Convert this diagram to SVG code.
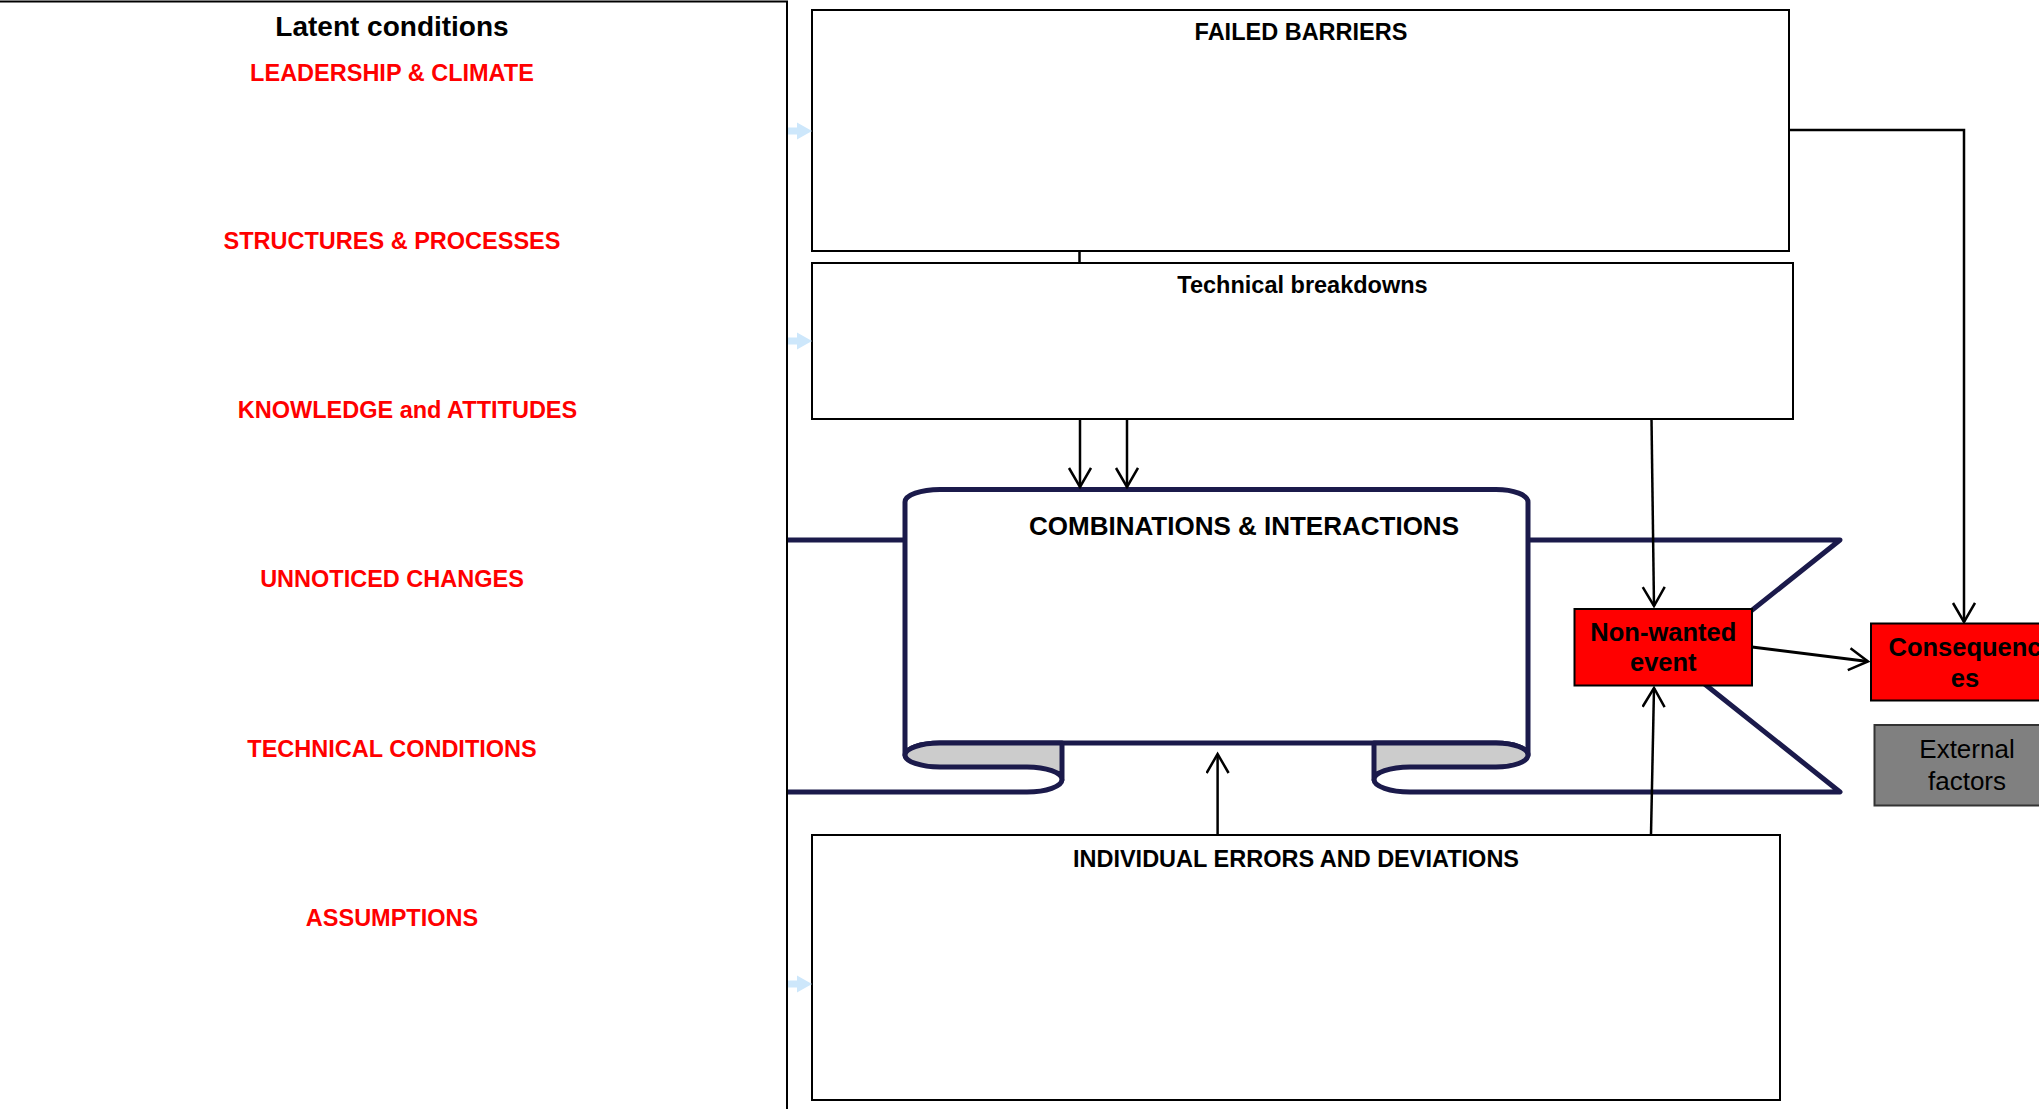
<svg xmlns="http://www.w3.org/2000/svg" width="2039" height="1109" viewBox="0 0 2039 1109">
<style>
.lbl{font-family:"Liberation Sans",Arial,sans-serif;font-weight:bold;font-size:23.5px;fill:#000;text-anchor:middle}
.red{fill:#ff0000}
.box{fill:#fff;stroke:#000;stroke-width:2}
.rib{stroke:#1b1a4b;stroke-width:5;stroke-linejoin:round}
.con{fill:none;stroke:#000;stroke-width:2.5}
.ev{font-family:"Liberation Sans",Arial,sans-serif;font-weight:bold;font-size:25.5px;fill:#000;text-anchor:middle}
.ext{font-family:"Liberation Sans",Arial,sans-serif;font-size:26px;fill:#000;text-anchor:middle}
.blue{fill:#cde7fb}
</style>
<defs>
<marker id="ah" markerUnits="userSpaceOnUse" markerWidth="26" markerHeight="26" refX="20" refY="12" orient="auto">
<path d="M1,1 L20,12 L1,23" fill="none" stroke="#000" stroke-width="2.5"/>
</marker>
</defs>
<rect width="2039" height="1109" fill="#fff"/>

<!-- Ribbon: combinations & interactions -->
<g id="combinations">
<path class="rib" fill="none" d="M787,540 H906"/>
<path class="rib" fill="#fff" d="M1527,540 H1840 L1682,666 L1840,792 H1410 A36,12.5 0 0 1 1374,779.5"/>
<path class="rib" fill="none" d="M787,792 H1027 A35,12.5 0 0 0 1062,779.5"/>
<path class="rib" fill="#fff" d="M905,755 V502 A35,12.5 0 0 1 940,489.5 H1496 A32,12.5 0 0 1 1528,502 V755 A32,12 0 0 0 1496,743 H940 A35,12 0 0 0 905,755 Z"/>
<path class="rib" fill="#cccccc" d="M940,743 A35,12 0 0 0 940,767 H1027 A35,12.5 0 0 1 1062,779.5 V743 Z"/>
<path class="rib" fill="#cccccc" d="M1496,743 A32,12 0 0 1 1496,767 H1410 A36,12.5 0 0 0 1374,779.5 V743 Z"/>
<text class="lbl" x="1244" y="535" style="font-size:26px">COMBINATIONS &amp; INTERACTIONS</text>
</g>

<!-- Left panel: latent conditions -->
<g id="latent">
<rect x="-3" y="1.5" width="790" height="1200" fill="#fff" stroke="#000" stroke-width="2"/>
<text class="lbl" x="392" y="36" style="font-size:28px">Latent conditions</text>
<text class="lbl red" x="392" y="80.7">LEADERSHIP &amp; CLIMATE</text>
<text class="lbl red" x="392" y="249.3">STRUCTURES &amp; PROCESSES</text>
<text class="lbl red" x="407.5" y="418.3">KNOWLEDGE and ATTITUDES</text>
<text class="lbl red" x="392" y="587.3">UNNOTICED CHANGES</text>
<text class="lbl red" x="392" y="756.7">TECHNICAL CONDITIONS</text>
<text class="lbl red" x="392" y="925.7">ASSUMPTIONS</text>
</g>

<g id="failed-barriers">
<rect class="box" x="812" y="10" width="977" height="241"/>
<text class="lbl" x="1301" y="40">FAILED BARRIERS</text>
</g>

<g id="technical-breakdowns">
<rect class="box" x="812" y="263" width="981" height="156"/>
<text class="lbl" x="1302.5" y="293.3">Technical breakdowns</text>
</g>

<g id="individual-errors">
<rect class="box" x="812" y="835" width="968" height="265"/>
<text class="lbl" x="1296" y="866.7">INDIVIDUAL ERRORS AND DEVIATIONS</text>
</g>

<g id="blue-arrows">
<path class="blue" d="M788,127.5 H797 V122.5 L812,131 L797,139.5 V134.5 H788 Z"/>
<path class="blue" d="M788,337.5 H797 V332.5 L812,341 L797,349.5 V344.5 H788 Z"/>
<path class="blue" d="M788,980.5 H797 V975.5 L812,984 L797,992.5 V987.5 H788 Z"/>
</g>

<g id="connectors">
<path class="con" d="M1079.5,251 V263"/>
<path class="con" d="M1080,419 V487" marker-end="url(#ah)"/>
<path class="con" d="M1127,419 V487" marker-end="url(#ah)"/>
<path class="con" d="M1651.5,419 L1654,606" marker-end="url(#ah)"/>
<path class="con" d="M1789,130 H1964 V622" marker-end="url(#ah)"/>
<path class="con" d="M1217.6,835 V754" marker-end="url(#ah)"/>
<path class="con" d="M1651,835 L1654,688" marker-end="url(#ah)"/>
<path class="con" style="stroke-width:3" d="M1752,647 L1868,661.5" marker-end="url(#ah)"/>
</g>

<g id="non-wanted-event">
<rect x="1574.5" y="609" width="177.5" height="76.5" fill="#ff0000" stroke="#000" stroke-width="2"/>
<text class="ev" x="1663.3" y="641">Non-wanted</text>
<text class="ev" x="1663.3" y="671">event</text>
</g>

<g id="consequences">
<rect x="1871" y="623.5" width="190" height="77" fill="#ff0000" stroke="#000" stroke-width="2"/>
<text class="ev" x="1965" y="655.5">Consequenc</text>
<text class="ev" x="1965" y="686.5">es</text>
</g>

<g id="external-factors">
<rect x="1874.5" y="725" width="190" height="80.5" fill="#808080" stroke="#333" stroke-width="2"/>
<text class="ext" x="1967" y="758.3">External</text>
<text class="ext" x="1967" y="790">factors</text>
</g>
</svg>
